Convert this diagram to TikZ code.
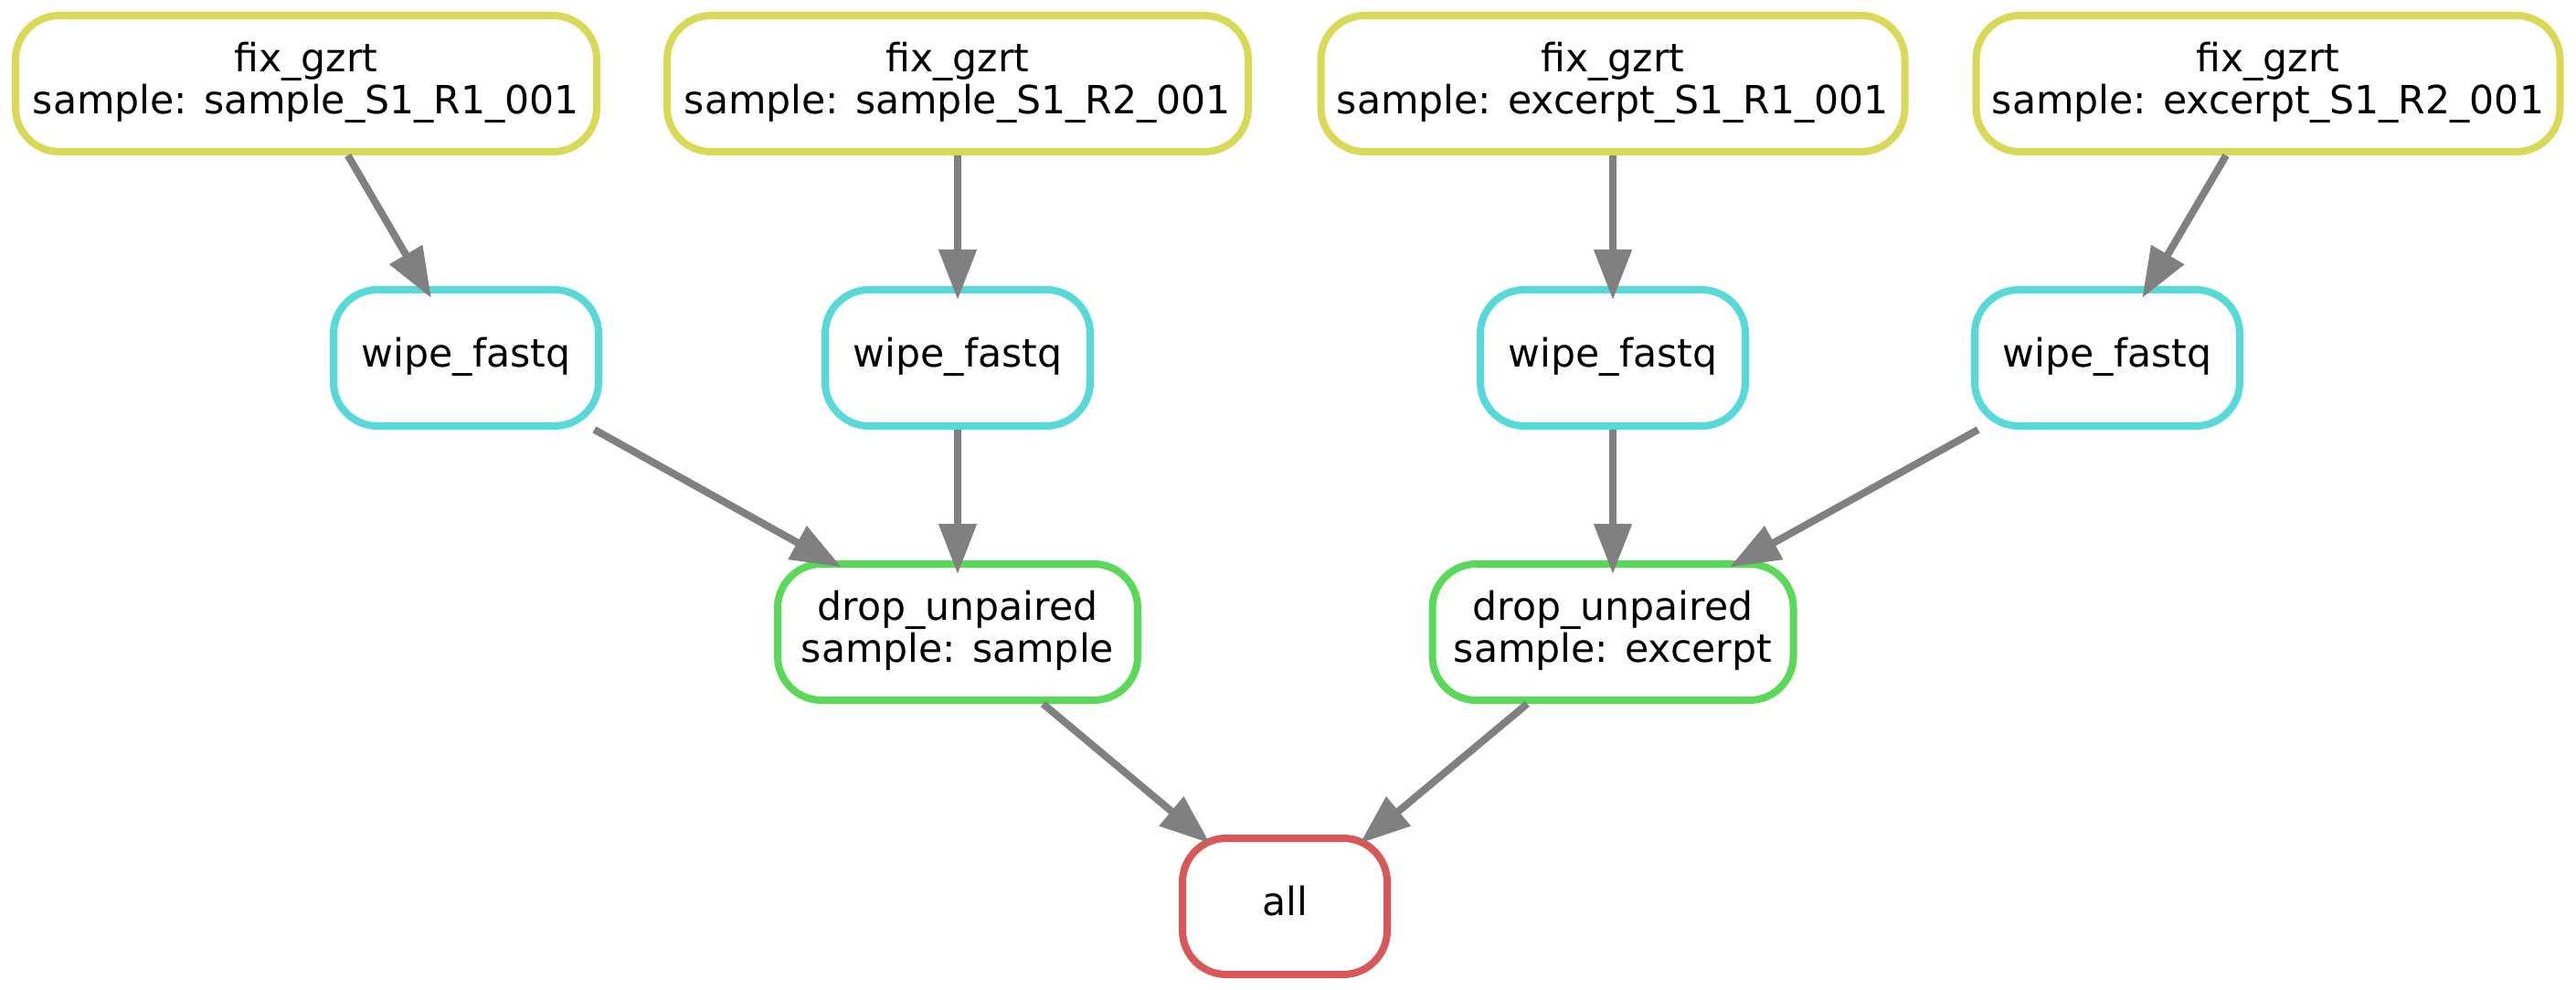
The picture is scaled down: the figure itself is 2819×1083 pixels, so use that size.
\documentclass[tikz,border=0pt]{standalone}
\usepackage{fontspec}
\setmainfont{DejaVu Sans}
\usetikzlibrary{arrows.meta}
\definecolor{cfix}{HTML}{D7D957}
\definecolor{cwipe}{HTML}{57D9D9}
\definecolor{cdrop}{HTML}{59D957}
\definecolor{call}{HTML}{D95757}
\definecolor{cedge}{HTML}{808080}
\newcommand\gs{\rule[-0.268em]{0pt}{1.028em}}
\tikzset{
  gvnode/.style={draw, line width=8pt, rounded corners=48pt, fill=white,
    inner sep=0pt, minimum height=149pt, align=center,
    font=\fontsize{42.6}{46}\selectfont},
  fixbox/.style={gvnode, draw=cfix, minimum width=#1},
  wipebox/.style={gvnode, draw=cwipe, minimum width=290pt},
  dropbox/.style={gvnode, draw=cdrop, minimum width=#1},
  allbox/.style={gvnode, draw=call, minimum width=224pt},
  flow/.style={draw=cedge, line width=8pt, -{Triangle[length=55pt,width=40pt]}, shorten >=-15pt}
}
\begin{document}
\begin{tikzpicture}[x=1pt,y=-1pt]
\useasboundingbox (0,0) rectangle (2819,1083);
\node[fixbox=636pt] (f1) at (335,91.5) {\gs fix\_gzrt\\\gs sample: sample\_S1\_R1\_001};
\node[fixbox=636pt] (f2) at (1048,91.5) {\gs fix\_gzrt\\\gs sample: sample\_S1\_R2\_001};
\node[fixbox=639pt] (f3) at (1765,91.5) {\gs fix\_gzrt\\\gs sample: excerpt\_S1\_R1\_001};
\node[fixbox=639pt] (f4) at (2482,91.5) {\gs fix\_gzrt\\\gs sample: excerpt\_S1\_R2\_001};
\node[wipebox] (w1) at (510,391.5) {\gs wipe\_fastq};
\node[wipebox] (w2) at (1048,391.5) {\gs wipe\_fastq};
\node[wipebox] (w3) at (1765,391.5) {\gs wipe\_fastq};
\node[wipebox] (w4) at (2306,391.5) {\gs wipe\_fastq};
\node[dropbox=394pt] (d1) at (1048,691.5) {\gs drop\_unpaired\\\gs sample: sample};
\node[dropbox=395pt] (d2) at (1765,691.5) {\gs drop\_unpaired\\\gs sample: excerpt};
\node[allbox] (a) at (1406,991.5) {\gs all};
\draw[flow] (f1) -- (w1);
\draw[flow] (f2) -- (w2);
\draw[flow] (f3) -- (w3);
\draw[flow] (f4) -- (w4);
\draw[flow] (w1) -- (d1);
\draw[flow] (w2) -- (d1);
\draw[flow] (w3) -- (d2);
\draw[flow] (w4) -- (d2);
\draw[flow] (d1) -- (a);
\draw[flow] (d2) -- (a);
\end{tikzpicture}
\end{document}
